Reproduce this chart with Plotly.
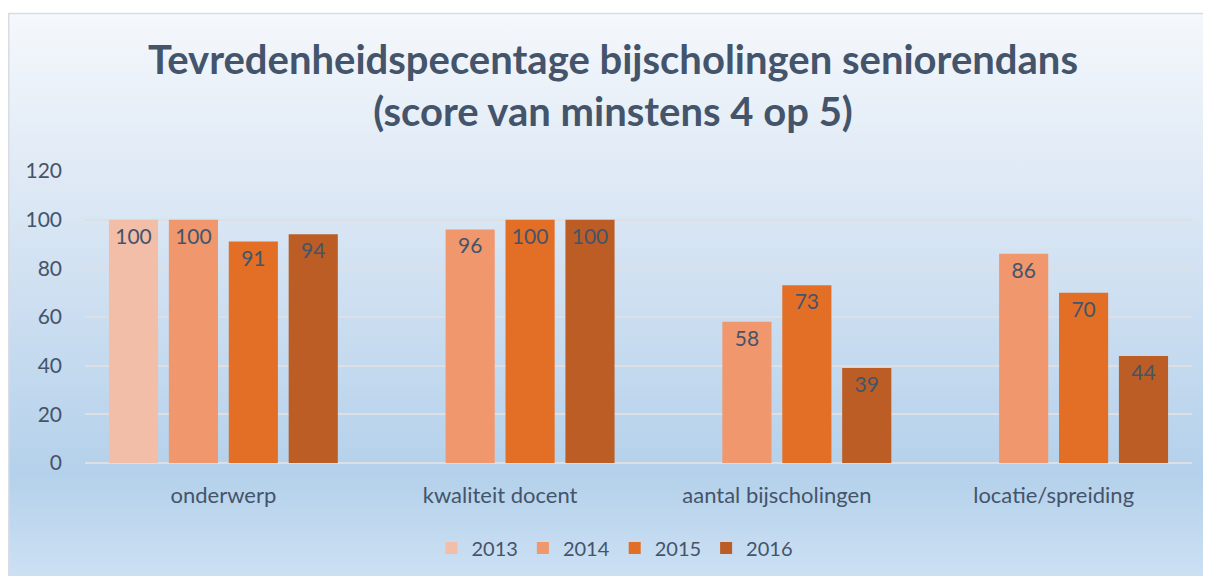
import base64
import plotly.graph_objects as go

categories = ["onderwerp", "kwaliteit docent", "aantal bijscholingen", "locatie/spreiding"]
years = ["2013", "2014", "2015", "2016"]
values_2013 = [100, None, None, None]
values_2014 = [100, 96, 58, 86]
values_2015 = [91, 100, 73, 70]
values_2016 = [94, 100, 39, 44]
series = [values_2013, values_2014, values_2015, values_2016]
colors = ["#F3BEA8", "#F0976D", "#E26F25", "#BB5D25"]
y_ticks = [0, 20, 40, 60, 80, 100, 120]

TITLE = "Tevredenheidspecentage bijscholingen seniorendans<br>(score van minstens 4 op 5)"
TEXT = "#44546A"
FONT = "Lato"

# figure is placed at (8, 8) in the page by the default body margin
W, H = 1203, 568
L, R, T, B = 77, 19, 163, 113
PW, PH = W - L - R, H - T - B


def xp(px):
    return (px - L) / PW


def yp(py):
    return (H - B - py) / PH


svg = (
    '<svg xmlns="http://www.w3.org/2000/svg" width="100" height="100" preserveAspectRatio="none">'
    '<defs><linearGradient id="g" x1="0" y1="0" x2="0" y2="1">'
    '<stop offset="0" stop-color="#F5F8FC"/>'
    '<stop offset="0.3" stop-color="#DEE9F5"/>'
    '<stop offset="0.55" stop-color="#CADDF0"/>'
    '<stop offset="0.82" stop-color="#B4D1EB"/>'
    '<stop offset="1" stop-color="#CCE0F3"/>'
    '</linearGradient></defs>'
    '<rect x="0" y="0" width="100" height="100" fill="url(#g)"/></svg>'
)
bg_uri = "data:image/svg+xml;base64," + base64.b64encode(svg.encode()).decode()

fig = go.Figure()
for name, vals, col in zip(years, series, colors):
    fig.add_trace(go.Bar(
        name=name,
        x=categories,
        y=vals,
        marker=dict(color=col, line=dict(width=0)),
        text=[("" if v is None else str(v)) for v in vals],
        textposition="inside",
        insidetextanchor="end",
        textangle=0,
        insidetextfont=dict(family=FONT, size=21, color=TEXT),
        cliponaxis=False,
    ))

fig.update_layout(
    width=W, height=H,
    margin=dict(l=L, r=R, t=T, b=B, autoexpand=False),
    paper_bgcolor="white",
    plot_bgcolor="rgba(0,0,0,0)",
    barmode="group",
    bargap=0.134,
    bargroupgap=0.18,
    font=dict(family=FONT, size=22, color=TEXT),
    title=dict(
        text=TITLE,
        x=605 / W, xref="container", xanchor="center",
        y=1 - 66 / H, yref="container", yanchor="middle",
        font=dict(family=FONT, size=40, color=TEXT, weight="bold"),
    ),
    xaxis=dict(
        type="category",
        showgrid=False,
        showline=False,
        zeroline=False,
        ticks="",
        ticklabelstandoff=17,
        tickfont=dict(family=FONT, size=22, color=TEXT),
    ),
    yaxis=dict(
        range=[0, 120],
        tickvals=y_ticks,
        showgrid=True,
        gridcolor="#DCDFE4",
        gridwidth=1.5,
        zeroline=True,
        zerolinecolor="#DCDFE4",
        zerolinewidth=2,
        showline=False,
        ticks="",
        ticklabelstandoff=22,
        tickfont=dict(family=FONT, size=21, color=TEXT),
    ),
    legend=dict(
        orientation="h",
        xref="container", x=607 / W, xanchor="center",
        yref="container", y=1 - 540 / H, yanchor="middle",
        font=dict(family=FONT, size=20, color=TEXT),
        bgcolor="rgba(0,0,0,0)",
        traceorder="normal",
        itemwidth=30,
    ),
    images=[dict(
        source=bg_uri,
        xref="paper", yref="paper",
        x=xp(0), y=yp(5),
        sizex=W / PW, sizey=(H - 5) / PH,
        xanchor="left", yanchor="top",
        sizing="stretch",
        layer="below",
    )],
    shapes=[dict(
        type="rect", xref="paper", yref="paper",
        x0=xp(0.75), x1=xp(W + 5), y0=yp(H + 5), y1=yp(5.5),
        line=dict(color="#D9DDE3", width=1.5),
        fillcolor="rgba(0,0,0,0)",
        layer="below",
    )],
)

fig.write_html("out.html")
